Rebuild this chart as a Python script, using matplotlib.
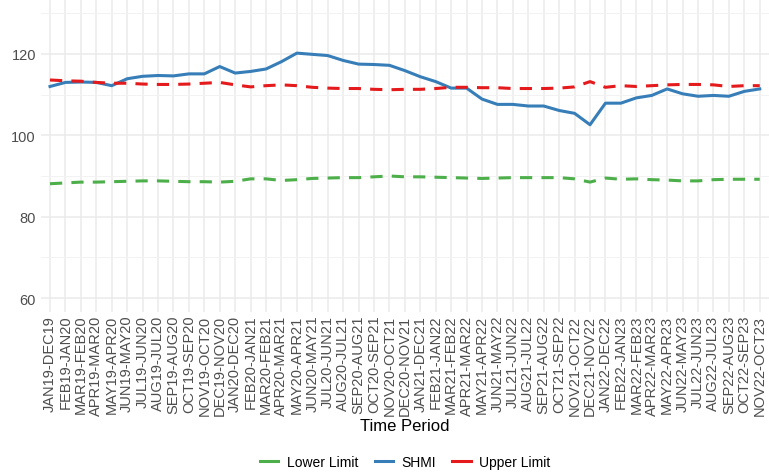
import numpy as np
import matplotlib.pyplot as plt
from matplotlib.lines import Line2D

plt.rcParams['font.family'] = ['Liberation Sans', 'DejaVu Sans']

periods = ["JAN19-DEC19", "FEB19-JAN20", "MAR19-FEB20", "APR19-MAR20", "MAY19-APR20",
           "JUN19-MAY20", "JUL19-JUN20", "AUG19-JUL20", "SEP19-AUG20", "OCT19-SEP20",
           "NOV19-OCT20", "DEC19-NOV20", "JAN20-DEC20", "FEB20-JAN21", "MAR20-FEB21",
           "APR20-MAR21", "MAY20-APR21", "JUN20-MAY21", "JUL20-JUN21", "AUG20-JUL21",
           "SEP20-AUG21", "OCT20-SEP21", "NOV20-OCT21", "DEC20-NOV21", "JAN21-DEC21",
           "FEB21-JAN22", "MAR21-FEB22", "APR21-MAR22", "MAY21-APR22", "JUN21-MAY22",
           "JUL21-JUN22", "AUG21-JUL22", "SEP21-AUG22", "OCT21-SEP22", "NOV21-OCT22",
           "DEC21-NOV22", "JAN22-DEC22", "FEB22-JAN23", "MAR22-FEB23", "APR22-MAR23",
           "MAY22-APR23", "JUN22-MAY23", "JUL22-JUN23", "AUG22-JUL23", "SEP22-AUG23",
           "OCT22-SEP23", "NOV22-OCT23"]

shmi = [112.0, 113.0, 113.1, 113.0, 112.2, 113.9, 114.5, 114.7, 114.6, 115.1,
        115.1, 116.9, 115.3, 115.7, 116.3, 118.1, 120.2, 119.9, 119.6, 118.4,
        117.5, 117.4, 117.2, 115.9, 114.4, 113.2, 111.6, 111.6, 108.9, 107.6,
        107.6, 107.2, 107.2, 106.1, 105.4, 102.6, 107.9, 107.9, 109.2, 109.8,
        111.4, 110.2, 109.6, 109.8, 109.6, 110.8, 111.4]

upper = [113.6, 113.4, 113.3, 113.0, 112.8, 112.8, 112.6, 112.5, 112.5, 112.6,
         112.8, 113.0, 112.4, 111.9, 112.2, 112.4, 112.2, 111.8, 111.6, 111.5,
         111.5, 111.3, 111.2, 111.3, 111.3, 111.5, 111.8, 111.8, 111.7, 111.7,
         111.5, 111.5, 111.5, 111.6, 111.9, 113.2, 111.8, 112.2, 112.0, 112.2,
         112.4, 112.5, 112.5, 112.4, 112.0, 112.2, 112.2]

lower = [88.1, 88.3, 88.5, 88.5, 88.6, 88.7, 88.8, 88.8, 88.7, 88.6,
         88.6, 88.5, 88.7, 89.3, 89.3, 88.9, 89.1, 89.4, 89.5, 89.6,
         89.6, 89.8, 90.0, 89.8, 89.8, 89.7, 89.6, 89.5, 89.4, 89.5,
         89.6, 89.6, 89.6, 89.6, 89.3, 88.5, 89.5, 89.2, 89.3, 89.1,
         89.0, 88.8, 88.8, 89.1, 89.2, 89.2, 89.2]

green = "#4DAF4A"
blue = "#377EB8"
red = "#E41A1C"

fig = plt.figure(figsize=(7.69, 4.77), dpi=100)
ax = fig.add_axes([0.053, 0.344, 0.947, 0.656])

x = np.arange(len(periods))
ax.plot(x, lower, color=green, lw=2.2, dashes=(4, 3))
ax.plot(x, shmi, color=blue, lw=2.2)
ax.plot(x, upper, color=red, lw=2.2, dashes=(4, 3))

ax.set_xlim(-0.6, len(periods) - 0.4)
ax.set_ylim(56.6, 133.5)
ax.set_yticks([60, 80, 100, 120])
ax.set_yticks([70, 90, 110, 130], minor=True)
ax.set_xticks(x)
ax.set_xticklabels(periods, rotation=90, fontsize=10.5, color="#4D4D4D")
ax.tick_params(axis='y', labelsize=10.5, colors="#4D4D4D", length=0, which='both')
ax.tick_params(axis='x', length=0, pad=2)

ax.grid(True, which='major', color="#EBEBEB", lw=1.1)
ax.grid(True, which='minor', axis='y', color="#F2F2F2", lw=0.7)
ax.set_axisbelow(True)
for s in ax.spines.values():
    s.set_visible(False)

ax.set_xlabel("Time Period", fontsize=12, labelpad=2)

handles = [Line2D([], [], color=green, lw=2.2),
           Line2D([], [], color=blue, lw=2.2),
           Line2D([], [], color=red, lw=2.2)]
fig.legend(handles, ["Lower Limit", "SHMI", "Upper Limit"], loc='center',
           bbox_to_anchor=(0.527, 0.029), ncol=3, frameon=False, fontsize=10,
           handlelength=1.3, columnspacing=1.2, handletextpad=0.6)

fig.savefig("out.png", dpi=100)
